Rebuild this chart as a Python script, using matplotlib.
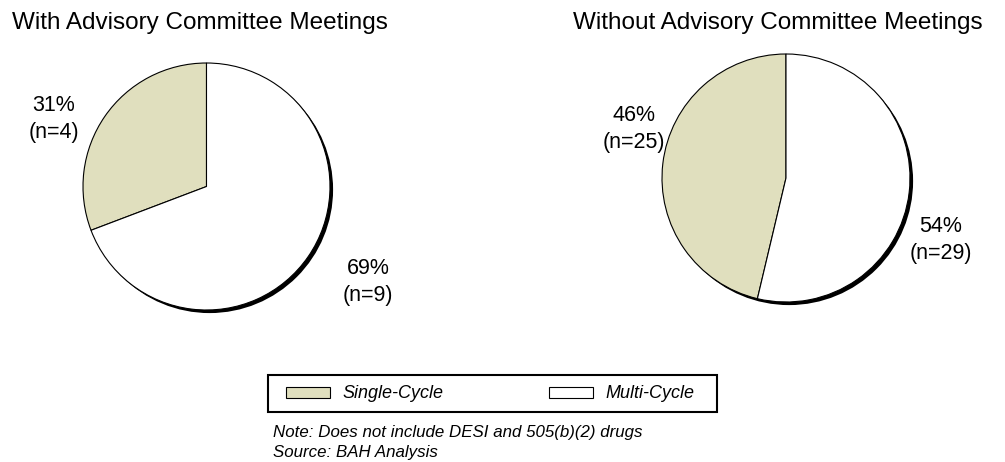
import matplotlib
matplotlib.use("Agg")
import matplotlib.pyplot as plt
from matplotlib.patches import Circle, Patch, Rectangle

plt.rcParams['font.family'] = ['Liberation Sans', 'DejaVu Sans']

categories = ["Single-Cycle", "Multi-Cycle"]
titles = ["With Advisory Committee Meetings", "Without Advisory Committee Meetings"]
with_counts = [4, 9]
without_counts = [25, 29]
with_pct_labels = ["31%\n(n=4)", "69%\n(n=9)"]
without_pct_labels = ["46%\n(n=25)", "54%\n(n=29)"]
colors = ["#E0DFBE", "#FFFFFF"]

W, H = 1005, 462
fig = plt.figure(figsize=(W / 100, H / 100), dpi=100)


def make_ax(cx, cy, r):
    half = 1.05 * r
    ax = fig.add_axes([(cx - half) / W, 1 - (cy + half) / H, 2 * half / W, 2 * half / H])
    return ax


def draw_pie(ax, counts):
    ax.add_patch(Circle((0.025, -0.025), 1.0, facecolor="black", edgecolor="none", zorder=0))
    wedges, _ = ax.pie(counts, colors=colors, startangle=90, counterclock=True,
                       radius=1.0, center=(0, 0), frame=True,
                       wedgeprops=dict(edgecolor="black", linewidth=0.8))
    for w in wedges:
        w.set_zorder(1)
    ax.set_xlim(-1.05, 1.05)
    ax.set_ylim(-1.05, 1.05)
    ax.set_axis_off()
    return wedges


ax1 = make_ax(206.5, 186.5, 123.5)
draw_pie(ax1, with_counts)
ax2 = make_ax(786, 178, 124)
draw_pie(ax2, without_counts)

fs = 17.5
fig.text(12 / W, 1 - 28.5 / H, titles[0], fontsize=fs, ha="left", va="baseline")
fig.text(573 / W, 1 - 28.5 / H, titles[1], fontsize=fs, ha="left", va="baseline")

lfs = 15.5
ls = 1.32
fig.text(54 / W, 1 - 119 / H, with_pct_labels[0], fontsize=lfs, ha="center", va="center", linespacing=ls)
fig.text(368 / W, 1 - 282 / H, with_pct_labels[1], fontsize=lfs, ha="center", va="center", linespacing=ls)
fig.text(634 / W, 1 - 129 / H, without_pct_labels[0], fontsize=lfs, ha="center", va="center", linespacing=ls)
fig.text(941 / W, 1 - 240 / H, without_pct_labels[1], fontsize=lfs, ha="center", va="center", linespacing=ls)

# legend frame
fig.patches.append(Rectangle((268 / W, 1 - 412 / H), 449 / W, 37 / H,
                             transform=fig.transFigure, facecolor="white",
                             edgecolor="black", linewidth=1.5, zorder=0))
legfs = 13
px = legfs * 100 / 72.0
handles = [Patch(facecolor=c, edgecolor="black", linewidth=0.8) for c in colors]
leg = fig.legend(handles, categories, loc="center left", ncol=2,
                 bbox_to_anchor=(286 / W, 1 - 394 / H),
                 frameon=False, prop=dict(style="italic", size=legfs),
                 handlelength=44 / px, handleheight=10 / px, handletextpad=12 / px,
                 borderaxespad=0, borderpad=0, columnspacing=106 / px)

fig.text(273 / W, 1 - 433 / H, "Note: Does not include DESI and 505(b)(2) drugs",
         fontsize=12.2, style="italic", ha="left", va="center")
fig.text(273 / W, 1 - 452 / H, "Source: BAH Analysis",
         fontsize=12.2, style="italic", ha="left", va="center")

fig.savefig("out.png", dpi=100, facecolor="white")
